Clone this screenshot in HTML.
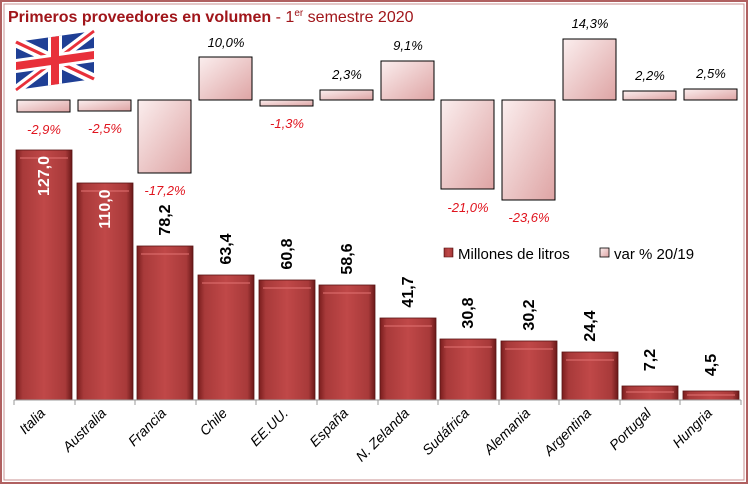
<!DOCTYPE html>
<html><head><meta charset="utf-8"><style>
body{margin:0;background:#fff}
svg{display:block;font-family:"Liberation Sans",sans-serif}
</style></head><body>
<svg width="749" height="485" viewBox="0 0 749 485" xmlns="http://www.w3.org/2000/svg">
<defs>
<linearGradient id="rb" x1="0" x2="1" y1="0" y2="0">
<stop offset="0" stop-color="#7a1e1e"/><stop offset="0.12" stop-color="#a83a3a"/><stop offset="0.5" stop-color="#c04848"/><stop offset="0.88" stop-color="#a83a3a"/><stop offset="1" stop-color="#6a1818"/></linearGradient>
<linearGradient id="pb" x1="0" y1="0" x2="1" y2="1">
<stop offset="0" stop-color="#fbeeee"/><stop offset="1" stop-color="#dea4a4"/></linearGradient>
</defs>
<rect x="1" y="1" width="746" height="482" fill="#fff" stroke="#b06060" stroke-width="2"/>
<rect x="4" y="4" width="740" height="476" fill="none" stroke="#c89090" stroke-width="1"/>
<text x="8" y="22" font-size="16" font-weight="bold" fill="#a0151a">Primeros proveedores en volumen <tspan font-weight="normal">- 1<tspan font-size="10" dy="-6">er</tspan><tspan dy="6"> semestre 2020</tspan></tspan></text>
<g transform="translate(16,36) skewY(-8)">
<rect x="0" y="6" width="78" height="48" fill="#1f3f95"/>
<path d="M0 6 L78 54 M78 6 L0 54" stroke="#fff" stroke-width="10"/>
<path d="M0 6 L78 54 M78 6 L0 54" stroke="#e8303a" stroke-width="3"/>
<path d="M39 6 V54 M0 30 H78" stroke="#fff" stroke-width="14"/>
<path d="M39 6 V54 M0 30 H78" stroke="#e8303a" stroke-width="8"/>
</g>
<g fill="url(#pb)" stroke="#000" stroke-width="1">
<rect x="17" y="100" width="53" height="12"/>
<rect x="78" y="100" width="53" height="11"/>
<rect x="138" y="100" width="53" height="73"/>
<rect x="199" y="57" width="53" height="43"/>
<rect x="260" y="100" width="53" height="6"/>
<rect x="320" y="90" width="53" height="10"/>
<rect x="381" y="61" width="53" height="39"/>
<rect x="441" y="100" width="53" height="89"/>
<rect x="502" y="100" width="53" height="100"/>
<rect x="563" y="39" width="53" height="61"/>
<rect x="623" y="91" width="53" height="9"/>
<rect x="684" y="89" width="53" height="11"/>
</g>
<g font-size="13" font-style="italic" text-anchor="middle" fill="#e0141e">
<text x="44" y="134">-2,9%</text>
<text x="105" y="133">-2,5%</text>
<text x="165" y="195">-17,2%</text>
<text x="287" y="128">-1,3%</text>
<text x="468" y="212">-21,0%</text>
<text x="529" y="222">-23,6%</text>
</g>
<g font-size="13" font-style="italic" text-anchor="middle" fill="#000">
<text x="226" y="47">10,0%</text>
<text x="347" y="79">2,3%</text>
<text x="408" y="50">9,1%</text>
<text x="590" y="28">14,3%</text>
<text x="650" y="80">2,2%</text>
<text x="711" y="78">2,5%</text>
</g>
<g fill="url(#rb)" stroke="#5a1414" stroke-width="0.8">
<rect x="16" y="150" width="56" height="250"/>
<rect x="77" y="183" width="56" height="217"/>
<rect x="137" y="246" width="56" height="154"/>
<rect x="198" y="275" width="56" height="125"/>
<rect x="259" y="280" width="56" height="120"/>
<rect x="319" y="285" width="56" height="115"/>
<rect x="380" y="318" width="56" height="82"/>
<rect x="440" y="339" width="56" height="61"/>
<rect x="501" y="341" width="56" height="59"/>
<rect x="562" y="352" width="56" height="48"/>
<rect x="622" y="386" width="56" height="14"/>
<rect x="683" y="391" width="56" height="9"/>
</g>
<g fill="none" stroke="#e07070" stroke-width="1.5" opacity="0.7">
<path d="M20 158H68M81 191H129M141 254H189M202 283H250M263 288H311M323 293H371M384 326H432M444 347H492M505 349H553M566 360H614M626 392H674M687 395H735"/>
</g>
<line x1="14" y1="400" x2="741" y2="400" stroke="#999"/>
<g stroke="#999"><path d="M14 400v5M75 400v5M135 400v5M196 400v5M256 400v5M317 400v5M378 400v5M438 400v5M499 400v5M559 400v5M620 400v5M680 400v5M741 400v5"/></g>
<g font-size="16" font-weight="bold" text-anchor="middle">
<text transform="translate(49,176) rotate(-90)" fill="#fff">127,0</text>
<text transform="translate(110,209) rotate(-90)" fill="#fff">110,0</text>
<text transform="translate(170,220) rotate(-90)">78,2</text>
<text transform="translate(231,249) rotate(-90)">63,4</text>
<text transform="translate(292,254) rotate(-90)">60,8</text>
<text transform="translate(352,259) rotate(-90)">58,6</text>
<text transform="translate(413,292) rotate(-90)">41,7</text>
<text transform="translate(473,313) rotate(-90)">30,8</text>
<text transform="translate(534,315) rotate(-90)">30,2</text>
<text transform="translate(595,326) rotate(-90)">24,4</text>
<text transform="translate(655,360) rotate(-90)">7,2</text>
<text transform="translate(716,365) rotate(-90)">4,5</text>
</g>
<rect x="444" y="248" width="9" height="9" fill="url(#rb)" stroke="#5a1414" stroke-width="0.6"/>
<text x="458" y="259" font-size="15">Millones de litros</text>
<rect x="600" y="248" width="9" height="9" fill="url(#pb)" stroke="#000" stroke-width="0.8"/>
<text x="614" y="259" font-size="15">var % 20/19</text>
<g font-size="14" font-style="italic" text-anchor="end">
<text transform="translate(46,414) rotate(-45)">Italia</text>
<text transform="translate(107,414) rotate(-45)">Australia</text>
<text transform="translate(167,414) rotate(-45)">Francia</text>
<text transform="translate(228,414) rotate(-45)">Chile</text>
<text transform="translate(289,414) rotate(-45)">EE.UU.</text>
<text transform="translate(349,414) rotate(-45)">España</text>
<text transform="translate(410,414) rotate(-45)">N. Zelanda</text>
<text transform="translate(470,414) rotate(-45)">Sudáfrica</text>
<text transform="translate(531,414) rotate(-45)">Alemania</text>
<text transform="translate(592,414) rotate(-45)">Argentina</text>
<text transform="translate(652,414) rotate(-45)">Portugal</text>
<text transform="translate(713,414) rotate(-45)">Hungria</text>
</g>
</svg>
</body></html>
